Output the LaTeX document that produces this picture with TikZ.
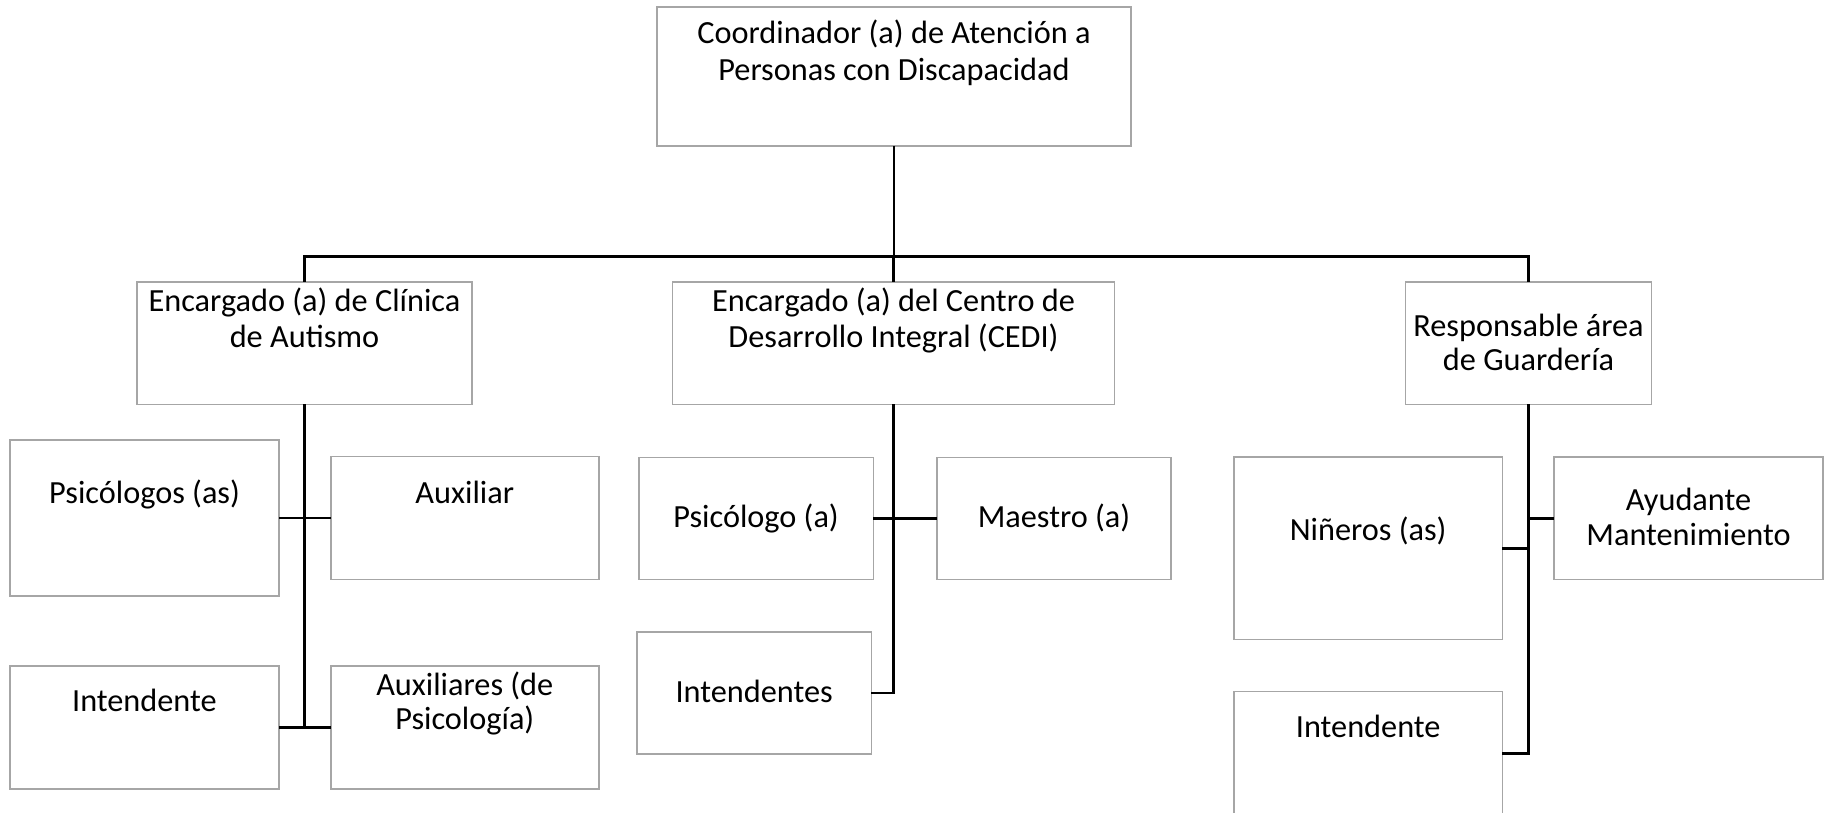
\documentclass[tikz,border=0pt]{standalone}
\usepackage{fontspec}
\setmainfont{Carlito}
\begin{document}
\begin{tikzpicture}[x=1pt, y=-1pt,
        box/.style={draw=black!35, line width=1.5pt, inner sep=0pt, outer sep=0pt},
        lbl/.style={align=center, anchor=base, inner sep=0pt, font={\fontsize{32.3}{36}\selectfont}},
        conn/.style={line width=2.7pt}]
                    \useasboundingbox (0, 0) rectangle (1827, 813);
                    % Boxes
                    \node[box, minimum width=474, minimum height=139] (coord) at (894, 76.5) {};
                    \node[box, minimum width=335, minimum height=122.5] (clin) at (304.5, 343.2) {};
                    \node[box, minimum width=442, minimum height=122.5] (cedi) at (893.5, 343.2) {};
                    \node[box, minimum width=246, minimum height=122.5] (guard) at (1528.5, 343.2) {};
                    \node[box, minimum width=269, minimum height=156] (psi) at (144.6, 518) {};
                    \node[box, minimum width=268, minimum height=122.6] (aux) at (464.8, 518) {};
                    \node[box, minimum width=269, minimum height=123] (int1) at (144.4, 727.5) {};
                    \node[box, minimum width=268, minimum height=123] (aux2) at (464.8, 727.5) {};
                    \node[box, minimum width=234.6, minimum height=122] (psa) at (756.1, 518.3) {};
                    \node[box, minimum width=234.1, minimum height=122] (maes) at (1054, 518.3) {};
                    \node[box, minimum width=234.3, minimum height=122] (ints) at (754.2, 693) {};
                    \node[box, minimum width=268.3, minimum height=182.8] (nin) at (1368.2, 548.2) {};
                    \node[box, minimum width=269.1, minimum height=122.8] (ayu) at (1688.5, 518.2) {};
                    \node[box, minimum width=268.3, minimum height=123.4] (intg) at (1368.2, 753.4) {};
                    % Labels (two-line labels sit on their last line)
                    \node[lbl, font={\fontsize{32.3}{37}\selectfont}] (coord-t) at (894, 81) {Coordinador (a) de Atención a\\Personas con Discapacidad};
                    \node[lbl] (clin-t) at (304.5, 347) {Encargado (a) de Clínica\\de Autismo};
                    \node[lbl] (cedi-t) at (893.5, 347) {Encargado (a) del Centro de\\Desarrollo Integral (CEDI)};
                    \node[lbl, font={\fontsize{32.3}{34}\selectfont}] (guard-t) at (1528.5, 370) {Responsable área\\de Guardería};
                    \node[lbl] (psi-t) at (144.6, 503) {Psicólogos (as)};
                    \node[lbl] (aux-t) at (464.8, 503.3) {Auxiliar};
                    \node[lbl] (int1-t) at (144.4, 711.7) {Intendente};
                    \node[lbl, font={\fontsize{32.3}{33.5}\selectfont}] (aux2-t) at (464.8, 729) {Auxiliares (de\\Psicología)};
                    \node[lbl] (psa-t) at (756.1, 527.3) {Psicólogo (a)};
                    \node[lbl] (maes-t) at (1054, 527.3) {Maestro (a)};
                    \node[lbl] (ints-t) at (754.2, 702.3) {Intendentes};
                    \node[lbl] (nin-t) at (1368.2, 540) {Niñeros (as)};
                    \node[lbl, font={\fontsize{32.3}{35}\selectfont}] (ayu-t) at (1688.5, 545) {Ayudante\\Mantenimiento};
                    \node[lbl] (intg-t) at (1368.2, 737.6) {Intendente};
                    % Lines
                    \coordinate (bar) at (894, 256.5);
                    \draw[conn] (coord.south) -- (bar);
                    \draw[conn] (clin.north) |- (bar) -| (guard.north);
                    \draw[conn] (cedi.north |- bar) -- (cedi.north);
                    % Clinica
                    \draw[conn] (clin.south) -- (clin.south |- aux2.west);
                    \draw[conn] (psi.east) -- (aux.west);
                    \draw[conn] (int1.east) -- (aux2.west);
                    % CEDI
                    \draw[conn] (cedi.south) |- (ints.east);
                    \draw[conn] (psa.east) -- (maes.west);
                    % Guarderia
                    \draw[conn] (guard.south) |- (intg.east);
                    \draw[conn] (nin.east) -- (nin.east -| guard.south);
                    \draw[conn] (ayu.west) -- (ayu.west -| guard.south);
                \end{tikzpicture}
\end{document}
